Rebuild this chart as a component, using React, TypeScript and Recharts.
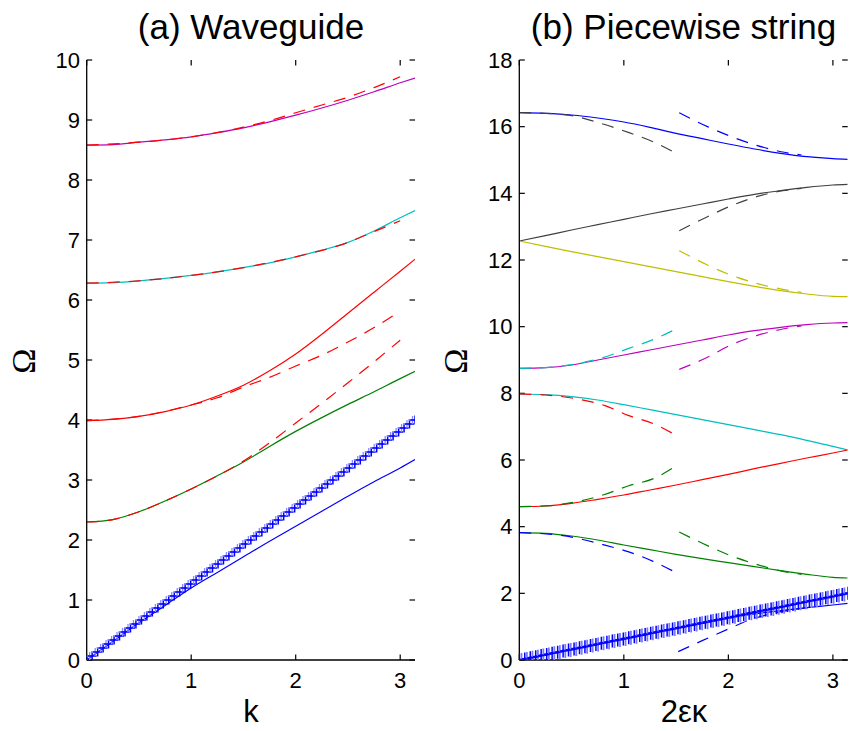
import React from 'react'
import { ComposedChart, Line, XAxis, YAxis, ReferenceLine } from 'recharts'

const PI = 3.1416

// ---------- (a) Waveguide ----------
const WG_K = [0, 0.25, 0.5, 0.75, 1, 1.25, 1.5, 1.75, 2, 2.25, 2.5, 2.75, 3, PI]
const WG_MAGENTA = [8.58, 8.59, 8.63, 8.67, 8.72, 8.79, 8.87, 8.97, 9.08, 9.2, 9.33, 9.47, 9.62, 9.7]
const WG_CYAN = [6.28, 6.29, 6.32, 6.36, 6.41, 6.47, 6.54, 6.62, 6.72, 6.83, 6.96, 7.15, 7.37, 7.49]
const WG_RED = [3.99, 4.01, 4.06, 4.14, 4.25, 4.4, 4.58, 4.82, 5.1, 5.43, 5.78, 6.13, 6.48, 6.68]
const WG_GREEN = [2.3, 2.34, 2.47, 2.65, 2.85, 3.07, 3.3, 3.56, 3.81, 4.04, 4.26, 4.47, 4.69, 4.81]
const WG_BLUE = [0, 0.31, 0.62, 0.91, 1.2, 1.46, 1.72, 1.98, 2.23, 2.48, 2.73, 2.97, 3.2, 3.34]

// red dashed approximations
const WG_D1_K = [0, 0.5, 1, 1.5, 1.75, 2, 2.25, 2.5, 2.75, 3]
const WG_D1 = [8.58, 8.63, 8.72, 8.88, 8.99, 9.12, 9.25, 9.38, 9.54, 9.72]
const WG_D2_K = [0, 0.5, 1, 1.5, 2, 2.5, 2.75, 3]
const WG_D2 = [6.28, 6.32, 6.41, 6.54, 6.72, 6.96, 7.14, 7.32]
const WG_D3_K = [0, 0.5, 1, 1.25, 1.5, 1.75, 2, 2.25, 2.5, 2.75, 2.95]
const WG_D3 = [3.99, 4.06, 4.25, 4.37, 4.55, 4.71, 4.9, 5.08, 5.3, 5.54, 5.76]
const WG_D4_K = [0, 0.25, 0.5, 0.75, 1, 1.25, 1.44, 1.75, 2, 2.25, 2.5, 2.75, 3]
const WG_D4 = [2.3, 2.34, 2.47, 2.65, 2.85, 3.07, 3.25, 3.62, 3.95, 4.28, 4.62, 4.97, 5.33]

// marker positions (shared k grid)
const MARK_K = [
  0, 0.052, 0.105, 0.157, 0.209, 0.262, 0.314, 0.367, 0.419, 0.471, 0.524, 0.576, 0.628, 0.681, 0.733,
  0.785, 0.838, 0.89, 0.942, 0.995, 1.047, 1.1, 1.152, 1.204, 1.257, 1.309, 1.361, 1.414, 1.466, 1.518,
  1.571, 1.623, 1.676, 1.728, 1.78, 1.833, 1.885, 1.937, 1.99, 2.042, 2.094, 2.147, 2.199, 2.251, 2.304,
  2.356, 2.409, 2.461, 2.513, 2.566, 2.618, 2.67, 2.723, 2.775, 2.827, 2.88, 2.932, 2.985, 3.037, 3.089, 3.142,
]
const WG_MARK = [
  0, 0.067, 0.133, 0.2, 0.267, 0.333, 0.4, 0.467, 0.533, 0.6, 0.667, 0.733, 0.8, 0.867, 0.933,
  1.0, 1.067, 1.133, 1.2, 1.267, 1.333, 1.4, 1.467, 1.533, 1.6, 1.667, 1.733, 1.8, 1.867, 1.933,
  2.0, 2.067, 2.133, 2.2, 2.267, 2.333, 2.4, 2.467, 2.533, 2.6, 2.667, 2.733, 2.8, 2.867, 2.933,
  3.0, 3.067, 3.133, 3.2, 3.267, 3.333, 3.4, 3.467, 3.533, 3.6, 3.667, 3.733, 3.8, 3.867, 3.933, 4.0,
]

// ---------- (b) Piecewise string ----------
const PS_K = [0, 0.25, 0.5, 0.75, 1, 1.25, 1.5, 1.75, 2, 2.25, 2.5, 2.75, 3, PI]
const PS_BLUE_TOP = [16.42, 16.4, 16.35, 16.26, 16.14, 15.98, 15.8, 15.64, 15.48, 15.33, 15.2, 15.1, 15.04, 15.02]
const PS_BLACK = [12.57, 12.73, 12.9, 13.06, 13.22, 13.38, 13.53, 13.68, 13.83, 13.97, 14.08, 14.18, 14.25, 14.27]
const PS_YELLOW = [12.57, 12.41, 12.25, 12.1, 11.95, 11.8, 11.65, 11.5, 11.35, 11.21, 11.08, 10.98, 10.91, 10.9]
const PS_MAGENTA = [8.75, 8.77, 8.85, 9.0, 9.15, 9.3, 9.45, 9.6, 9.75, 9.88, 9.98, 10.06, 10.11, 10.12]
const PS_CYAN = [7.98, 7.96, 7.9, 7.8, 7.66, 7.51, 7.36, 7.21, 7.06, 6.91, 6.76, 6.59, 6.41, 6.3]
const PS_RED = [4.6, 4.62, 4.7, 4.82, 4.95, 5.1, 5.25, 5.41, 5.57, 5.74, 5.9, 6.06, 6.21, 6.3]
const PS_GREEN = [3.82, 3.8, 3.72, 3.6, 3.45, 3.31, 3.17, 3.04, 2.92, 2.8, 2.68, 2.57, 2.48, 2.46]
const PS_BLUE_LOW = [0, 0.16, 0.32, 0.48, 0.64, 0.8, 0.95, 1.1, 1.25, 1.38, 1.48, 1.57, 1.65, 1.7]

// dashed branches, left half
const PS_DL_BLACK_K = [0, 0.25, 0.5, 0.8, 1.05, 1.3, 1.5]
const PS_DL_BLACK = [16.42, 16.4, 16.33, 16.08, 15.82, 15.52, 15.2]
const PS_DL_CYAN_K = [0, 0.25, 0.5, 0.8, 1.04, 1.28, 1.5]
const PS_DL_CYAN = [8.75, 8.77, 8.86, 9.07, 9.34, 9.61, 9.93]
const PS_DL_RED_K = [0, 0.25, 0.5, 0.82, 1.04, 1.29, 1.5]
const PS_DL_RED = [7.98, 7.95, 7.86, 7.63, 7.34, 7.08, 6.74]
const PS_DL_GREEN_K = [0, 0.3, 0.5, 0.8, 1.04, 1.29, 1.5]
const PS_DL_GREEN = [4.6, 4.63, 4.72, 4.95, 5.22, 5.45, 5.82]
const PS_DL_BLUE_K = [0, 0.4, 0.8, 1.04, 1.28, 1.5]
const PS_DL_BLUE = [3.82, 3.74, 3.46, 3.25, 2.96, 2.62]

// dashed branches, right half
const PS_DR_K = [1.53, 1.8, 2.03, 2.27, 2.52, 2.7]
const PS_DR_BLUE = [16.42, 16.0, 15.7, 15.44, 15.24, 15.15]
const PS_DR_BLACK = [12.88, 13.3, 13.63, 13.9, 14.08, 14.15]
const PS_DR_YELLOW = [12.28, 11.85, 11.54, 11.3, 11.12, 11.03]
const PS_DR_MAGENTA = [8.72, 9.08, 9.46, 9.73, 9.93, 10.02]
const PS_DR_GREEN = [3.84, 3.43, 3.12, 2.87, 2.66, 2.57]
const PS_DR_BLUE_LOW_K = [1.52, 1.75, 2.0, 2.2, 2.4, 2.6, 2.8]
const PS_DR_BLUE_LOW = [0.25, 0.58, 0.93, 1.2, 1.38, 1.5, 1.58]

const PS_EDGE_K = [0, 0]
const PS_EDGE = [0, 12.57]

const PS_MARK = [
  0, 0.033, 0.067, 0.1, 0.133, 0.167, 0.2, 0.233, 0.267, 0.3, 0.333, 0.367, 0.4, 0.433, 0.467,
  0.5, 0.533, 0.567, 0.6, 0.633, 0.667, 0.7, 0.733, 0.767, 0.8, 0.833, 0.867, 0.9, 0.933, 0.967,
  1.0, 1.033, 1.067, 1.1, 1.133, 1.167, 1.2, 1.233, 1.267, 1.3, 1.333, 1.367, 1.4, 1.433, 1.467,
  1.5, 1.533, 1.567, 1.6, 1.633, 1.667, 1.7, 1.733, 1.767, 1.8, 1.833, 1.867, 1.9, 1.933, 1.967, 2.0,
]

const X_TICKS = [0, 1, 2, 3]
const WG_Y_TICKS = [0, 1, 2, 3, 4, 5, 6, 7, 8, 9, 10]
const PS_Y_TICKS = [0, 2, 4, 6, 8, 10, 12, 14, 16, 18]

const BLUE = '#0000ff'
const GREEN = '#008000'
const RED = '#ff0000'
const CYAN = '#00bfbf'
const MAGENTA = '#bf00bf'
const YELLOW = '#bfbf00'
const DARK = '#404040'
const DASH = '12 9'

const FONT = '"Liberation Sans", Arial, Helvetica, sans-serif'
const TICK_FONT = 22

// plot box is 328.3 x 600 px; inward tick marks are ~5.5 px long
const PLOT_W = 328.3
const PLOT_H = 600
const TICK_PX = 5.5

const pts = (xs: number[], ys: number[]) => xs.map((x, i) => ({ x, y: ys[i] }))

interface Series {
  key: string
  data: { x: number; y: number }[]
  color: string
  dashed?: boolean
  linear?: boolean
}

const wgSeries: Series[] = [
  { key: 'mag', data: pts(WG_K, WG_MAGENTA), color: MAGENTA },
  { key: 'cyan', data: pts(WG_K, WG_CYAN), color: CYAN },
  { key: 'red', data: pts(WG_K, WG_RED), color: RED },
  { key: 'green', data: pts(WG_K, WG_GREEN), color: GREEN },
  { key: 'blue', data: pts(WG_K, WG_BLUE), color: BLUE },
  { key: 'd1', data: pts(WG_D1_K, WG_D1), color: RED, dashed: true },
  { key: 'd2', data: pts(WG_D2_K, WG_D2), color: RED, dashed: true },
  { key: 'd3', data: pts(WG_D3_K, WG_D3), color: RED, dashed: true },
  { key: 'd4', data: pts(WG_D4_K, WG_D4), color: RED, dashed: true },
]

const psSeries: Series[] = [
  { key: 'edge', data: pts(PS_EDGE_K, PS_EDGE), color: MAGENTA, linear: true },
  { key: 'edgeD', data: pts(PS_EDGE_K, PS_EDGE), color: DARK, dashed: true, linear: true },
  { key: 'blueTop', data: pts(PS_K, PS_BLUE_TOP), color: BLUE },
  { key: 'black', data: pts(PS_K, PS_BLACK), color: DARK },
  { key: 'yellow', data: pts(PS_K, PS_YELLOW), color: YELLOW },
  { key: 'mag', data: pts(PS_K, PS_MAGENTA), color: MAGENTA },
  { key: 'cyan', data: pts(PS_K, PS_CYAN), color: CYAN },
  { key: 'red', data: pts(PS_K, PS_RED), color: RED },
  { key: 'green', data: pts(PS_K, PS_GREEN), color: GREEN },
  { key: 'blueLow', data: pts(PS_K, PS_BLUE_LOW), color: BLUE },
  { key: 'dlBlack', data: pts(PS_DL_BLACK_K, PS_DL_BLACK), color: DARK, dashed: true },
  { key: 'dlCyan', data: pts(PS_DL_CYAN_K, PS_DL_CYAN), color: CYAN, dashed: true },
  { key: 'dlRed', data: pts(PS_DL_RED_K, PS_DL_RED), color: RED, dashed: true },
  { key: 'dlGreen', data: pts(PS_DL_GREEN_K, PS_DL_GREEN), color: GREEN, dashed: true },
  { key: 'dlBlue', data: pts(PS_DL_BLUE_K, PS_DL_BLUE), color: BLUE, dashed: true },
  { key: 'drBlue', data: pts(PS_DR_K, PS_DR_BLUE), color: BLUE, dashed: true },
  { key: 'drBlack', data: pts(PS_DR_K, PS_DR_BLACK), color: DARK, dashed: true },
  { key: 'drYellow', data: pts(PS_DR_K, PS_DR_YELLOW), color: YELLOW, dashed: true },
  { key: 'drMag', data: pts(PS_DR_K, PS_DR_MAGENTA), color: MAGENTA, dashed: true },
  { key: 'drGreen', data: pts(PS_DR_K, PS_DR_GREEN), color: GREEN, dashed: true },
  { key: 'drBlueLow', data: pts(PS_DR_BLUE_LOW_K, PS_DR_BLUE_LOW), color: BLUE, dashed: true },
]

// "+" markers, left panel (two slightly offset sets)
const crossWG = (props: any) => {
  const { cx, cy, index } = props
  return (
    <g key={`cw-${index}`}>
      <path d={`M${cx - 6.5},${cy}h8M${cx - 2.5},${cy - 4}v8`} stroke="#8a8aff" strokeWidth={1.3} fill="none" />
      <path d={`M${cx - 4.5},${cy}h9M${cx},${cy - 4.5}v9`} stroke={BLUE} strokeWidth={1.5} fill="none" />
    </g>
  )
}

// "+" markers, right panel (tall bars on a thick line)
const crossPS = (props: any) => {
  const { cx, cy, index } = props
  return (
    <g key={`cp-${index}`}>
      <path d={`M${cx + 2.2},${cy - 7}v14`} stroke="#7b7bff" strokeWidth={1.8} fill="none" />
      <path d={`M${cx},${cy - 6.5}v13M${cx - 3},${cy}h6`} stroke={BLUE} strokeWidth={1.5} fill="none" />
    </g>
  )
}

const AXIS_LINE = { stroke: '#000', strokeWidth: 1.3 }
const TICK_TEXT = { fontSize: TICK_FONT, fill: '#000', fontFamily: FONT }

interface PanelProps {
  width: number
  yAxisWidth: number
  rightMargin: number
  yMax: number
  yTicks: number[]
  series: Series[]
  marks: { x: number; y: number }[]
  markDot: (p: any) => React.ReactElement
  markLine: boolean
}

const Panel = ({ width, yAxisWidth, rightMargin, yMax, yTicks, series, marks, markDot, markLine }: PanelProps) => {
  // tick length converted to data units so the marks point inward
  const dx = (TICK_PX * PI) / PLOT_W
  const dy = (TICK_PX * yMax) / PLOT_H
  const tickSegs: { key: string; seg: [{ x: number; y: number }, { x: number; y: number }] }[] = []
  X_TICKS.forEach(t => {
    tickSegs.push({ key: `b${t}`, seg: [{ x: t, y: 0 }, { x: t, y: dy }] })
    tickSegs.push({ key: `t${t}`, seg: [{ x: t, y: yMax - dy }, { x: t, y: yMax }] })
  })
  yTicks.forEach(t => {
    tickSegs.push({ key: `l${t}`, seg: [{ x: 0, y: t }, { x: dx, y: t }] })
    tickSegs.push({ key: `r${t}`, seg: [{ x: PI - dx, y: t }, { x: PI, y: t }] })
  })

  return (
    <ComposedChart width={width} height={731} margin={{ top: 60, right: rightMargin, bottom: 41, left: 0 }}>
      <XAxis
        type="number"
        dataKey="x"
        domain={[0, PI]}
        ticks={X_TICKS}
        interval={0}
        allowDataOverflow
        height={30}
        tickSize={0}
        tickMargin={12}
        tick={TICK_TEXT}
        tickLine={false}
        axisLine={AXIS_LINE}
      />
      <XAxis
        xAxisId="top"
        orientation="top"
        type="number"
        domain={[0, PI]}
        height={0}
        tick={false}
        tickLine={false}
        axisLine={AXIS_LINE}
      />
      <YAxis
        type="number"
        dataKey="y"
        domain={[0, yMax]}
        ticks={yTicks}
        interval={0}
        allowDataOverflow
        width={yAxisWidth}
        tickSize={0}
        tickMargin={6.7}
        tick={TICK_TEXT}
        tickLine={false}
        axisLine={AXIS_LINE}
      />
      <YAxis
        yAxisId="right"
        orientation="right"
        type="number"
        domain={[0, yMax]}
        width={0}
        tick={false}
        tickLine={false}
        axisLine={AXIS_LINE}
      />
      {tickSegs.map(t => (
        <ReferenceLine key={t.key} segment={t.seg} stroke="#000" strokeWidth={1.2} ifOverflow="visible" />
      ))}
      {series.map(s => (
        <Line
          key={s.key}
          data={s.data}
          dataKey="y"
          type={s.linear ? 'linear' : 'monotone'}
          stroke={s.color}
          strokeWidth={1.2}
          strokeDasharray={s.dashed ? DASH : undefined}
          dot={false}
          activeDot={false}
          isAnimationActive={false}
        />
      ))}
      <Line
        data={marks}
        dataKey="y"
        type="linear"
        stroke={markLine ? BLUE : 'none'}
        strokeWidth={2.6}
        dot={markDot}
        activeDot={false}
        isAnimationActive={false}
      />
    </ComposedChart>
  )
}

const SERIF = '"Liberation Serif", "DejaVu Serif", serif'

export default function App() {
  return (
    <div style={{ position: 'absolute', left: 0, top: 0, width: 851, height: 731, background: '#fff' }}>
      <div style={{ position: 'absolute', left: 0, top: 0 }}>
        <Panel
          width={430}
          yAxisWidth={86.7}
          rightMargin={15}
          yMax={10}
          yTicks={WG_Y_TICKS}
          series={wgSeries}
          marks={pts(MARK_K, WG_MARK)}
          markDot={crossWG}
          markLine={false}
        />
      </div>
      <div style={{ position: 'absolute', left: 430, top: 0 }}>
        <Panel
          width={421}
          yAxisWidth={89.3}
          rightMargin={3.3}
          yMax={18}
          yTicks={PS_Y_TICKS}
          series={psSeries}
          marks={pts(MARK_K, PS_MARK)}
          markDot={crossPS}
          markLine={true}
        />
      </div>
      <svg width={851} height={731} style={{ position: 'absolute', left: 0, top: 0, pointerEvents: 'none' }}>
        <text x={251} y={39} textAnchor="middle" fontSize={35} fontFamily={FONT} fill="#000">
          (a) Waveguide
        </text>
        <text x={683.5} y={39} textAnchor="middle" fontSize={35} fontFamily={FONT} fill="#000">
          (b) Piecewise string
        </text>
        <text x={251} y={722} textAnchor="middle" fontSize={31} fontFamily={FONT} fill="#000">
          k
        </text>
        <text x={684} y={722} textAnchor="middle" fontSize={31} fontFamily={FONT} fill="#000">
          2εκ
        </text>
        <text transform="translate(24,361) rotate(-90)" textAnchor="middle" dy="0.33em" fontSize={34} fontFamily={SERIF} fill="#000">
          Ω
        </text>
        <text transform="translate(456,361) rotate(-90)" textAnchor="middle" dy="0.33em" fontSize={34} fontFamily={SERIF} fill="#000">
          Ω
        </text>
      </svg>
    </div>
  )
}
